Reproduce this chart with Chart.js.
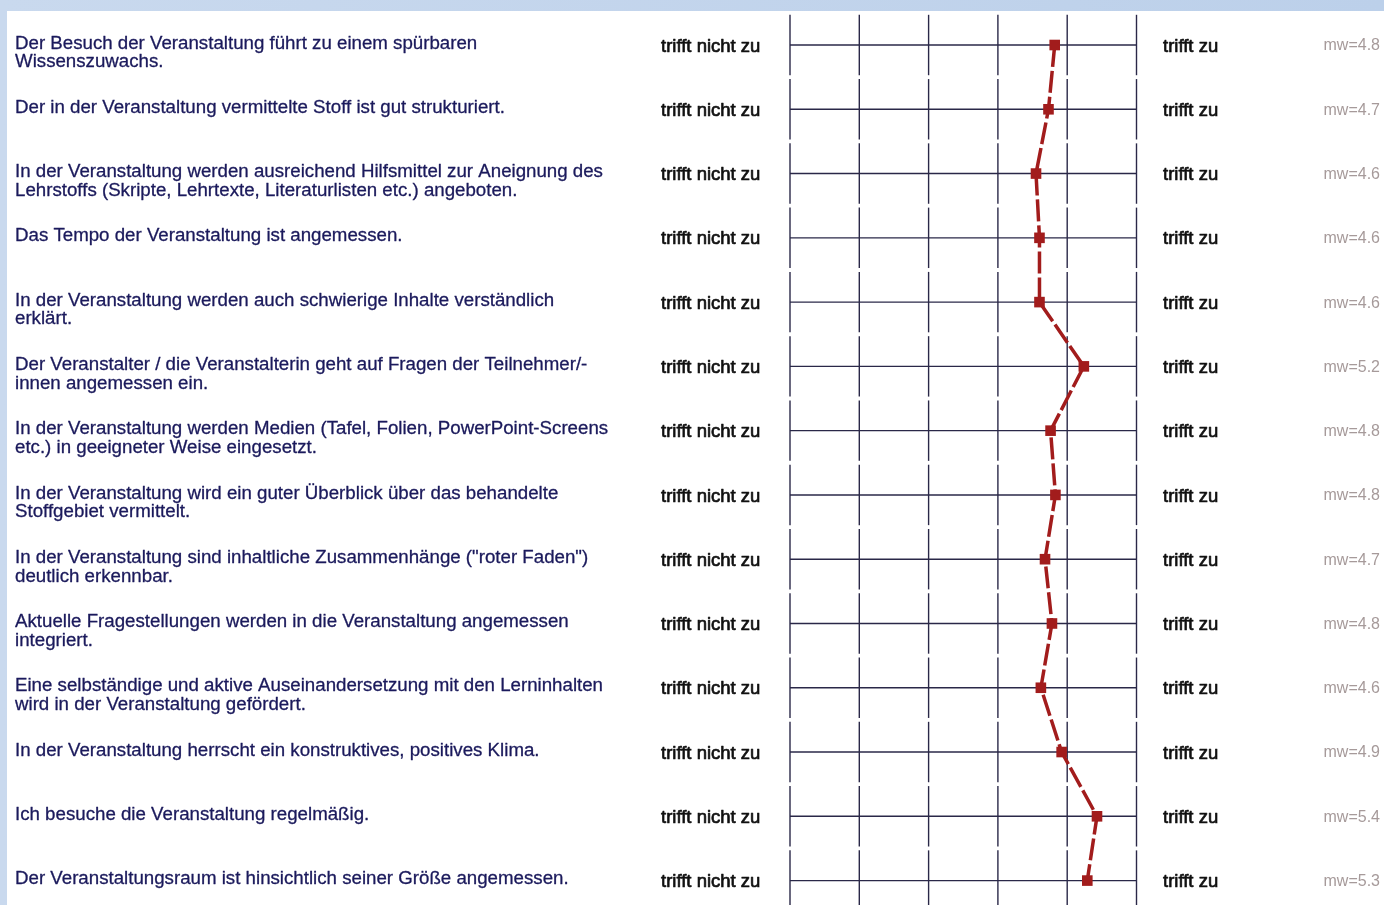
<!DOCTYPE html>
<html>
<head>
<meta charset="utf-8">
<script src="https://cdn.jsdelivr.net/npm/chart.js@4.4.1/dist/chart.umd.min.js"></script>
<style>
  html, body { margin: 0; padding: 0; width: 1384px; height: 905px; overflow: hidden; }
  #wrap { position: absolute; left: 0; top: 0; width: 1384px; height: 905px; }
</style>
</head>
<body>
<div id="wrap"><canvas id="c" width="1384" height="905"></canvas></div>
<script>
// ---- data ----
const questions = [
  ["Der Besuch der Veranstaltung führt zu einem spürbaren", "Wissenszuwachs."],
  ["Der in der Veranstaltung vermittelte Stoff ist gut strukturiert."],
  ["In der Veranstaltung werden ausreichend Hilfsmittel zur Aneignung des", "Lehrstoffs (Skripte, Lehrtexte, Literaturlisten etc.) angeboten."],
  ["Das Tempo der Veranstaltung ist angemessen."],
  ["In der Veranstaltung werden auch schwierige Inhalte verständlich", "erklärt."],
  ["Der Veranstalter / die Veranstalterin geht auf Fragen der Teilnehmer/-", "innen angemessen ein."],
  ["In der Veranstaltung werden Medien (Tafel, Folien, PowerPoint-Screens", "etc.) in geeigneter Weise eingesetzt."],
  ["In der Veranstaltung wird ein guter Überblick über das behandelte", "Stoffgebiet vermittelt."],
  ["In der Veranstaltung sind inhaltliche Zusammenhänge (\"roter Faden\")", "deutlich erkennbar."],
  ["Aktuelle Fragestellungen werden in die Veranstaltung angemessen", "integriert."],
  ["Eine selbständige und aktive Auseinandersetzung mit den Lerninhalten", "wird in der Veranstaltung gefördert."],
  ["In der Veranstaltung herrscht ein konstruktives, positives Klima."],
  ["Ich besuche die Veranstaltung regelmäßig."],
  ["Der Veranstaltungsraum ist hinsichtlich seiner Größe angemessen."]
];
const means = [4.82, 4.73, 4.55, 4.60, 4.60, 5.24, 4.76, 4.83, 4.68, 4.78, 4.62, 4.92, 5.43, 5.29];
const mwLabels = ["mw=4.8","mw=4.7","mw=4.6","mw=4.6","mw=4.6","mw=5.2","mw=4.8","mw=4.8","mw=4.7","mw=4.8","mw=4.6","mw=4.9","mw=5.4","mw=5.3"];
const leftPole = "trifft nicht zu";
const rightPole = "trifft zu";
const scaleTicks = [1, 2, 3, 4, 5, 6];

const points = means.map((v, i) => ({ x: v, y: i }));

const FONT = '"Liberation Sans", Arial, sans-serif';

const bgPlugin = {
  id: 'bg',
  beforeDraw(chart) {
    const ctx = chart.ctx;
    ctx.save();
    const g = ctx.createLinearGradient(0, 0, chart.width, 0);
    g.addColorStop(0, '#c9d9ee');
    g.addColorStop(1, '#bcd0ea');
    ctx.fillStyle = g;
    ctx.fillRect(0, 0, chart.width, chart.height);
    ctx.fillStyle = '#ffffff';
    ctx.fillRect(7, 11, chart.width - 7, chart.height - 11);
    ctx.restore();
  }
};

const gridPlugin = {
  id: 'profileGrid',
  beforeDatasetsDraw(chart) {
    const ctx = chart.ctx;
    const xs = chart.scales.x, ys = chart.scales.y;
    ctx.save();
    ctx.strokeStyle = '#2a2848';
    ctx.lineWidth = 1.4;
    const x0 = xs.getPixelForValue(scaleTicks[0]);
    const x1 = xs.getPixelForValue(scaleTicks[scaleTicks.length - 1]);
    questions.forEach((q, i) => {
      const y = ys.getPixelForValue(i);
      ctx.beginPath();
      ctx.moveTo(x0, y);
      ctx.lineTo(x1, y);
      ctx.stroke();
      const yt = ys.getPixelForValue(i - 0.47);
      const yb = ys.getPixelForValue(i + 0.47);
      scaleTicks.forEach(t => {
        const x = xs.getPixelForValue(t);
        ctx.beginPath();
        ctx.moveTo(x, yt);
        ctx.lineTo(x, yb);
        ctx.stroke();
      });
    });
    ctx.restore();
  }
};

function boldText(ctx, s, x, y, w) {
  ctx.fillText(s, x, y);
  ctx.lineWidth = w;
  ctx.strokeStyle = ctx.fillStyle;
  ctx.strokeText(s, x, y);
}

const textPlugin = {
  id: 'profileText',
  afterDraw(chart) {
    const ctx = chart.ctx;
    const ys = chart.scales.y;
    const area = chart.chartArea;
    ctx.save();
    ctx.textBaseline = 'middle';
    ctx.lineJoin = 'round';
    questions.forEach((lines, i) => {
      const y = ys.getPixelForValue(i);
      ctx.font = '18.7px ' + FONT;
      ctx.fillStyle = '#1b1a5c';
      ctx.textAlign = 'left';
      lines.forEach((ln, k) => {
        boldText(ctx, ln, 15, y - 1.5 + k * 18.7, 0.3);
      });
      ctx.font = '18.5px ' + FONT;
      ctx.fillStyle = '#111111';
      boldText(ctx, leftPole, area.left - 129, y + 1.5, 0.7);
      boldText(ctx, rightPole, area.right + 26.5, y + 1.5, 0.7);
      ctx.font = '16px ' + FONT;
      ctx.fillStyle = '#a69a9a';
      ctx.textAlign = 'right';
      ctx.fillText(mwLabels[i], chart.width - 4, y + 1);
    });
    ctx.restore();
  }
};

new Chart(document.getElementById('c'), {
  type: 'scatter',
  data: {
    datasets: [{
      data: points,
      showLine: true,
      borderColor: '#a21c1c',
      backgroundColor: '#a21c1c',
      borderWidth: 3.5,
      borderDash: [22, 4],
      pointStyle: 'rect',
      pointRadius: 7.5,
      pointHoverRadius: 7.5,
      pointBorderWidth: 0,
      tension: 0,
      clip: false
    }]
  },
  options: {
    responsive: false,
    animation: false,
    events: [],
    layout: { autoPadding: false, padding: { left: 790, right: 247.5, top: 12.87, bottom: 0 } },
    plugins: { legend: { display: false }, tooltip: { enabled: false } },
    scales: {
      x: { type: 'linear', min: 1, max: 6, display: false },
      y: { type: 'linear', min: -0.5, max: 13.38, reverse: true, display: false }
    }
  },
  plugins: [bgPlugin, gridPlugin, textPlugin]
});
</script>
</body>
</html>
